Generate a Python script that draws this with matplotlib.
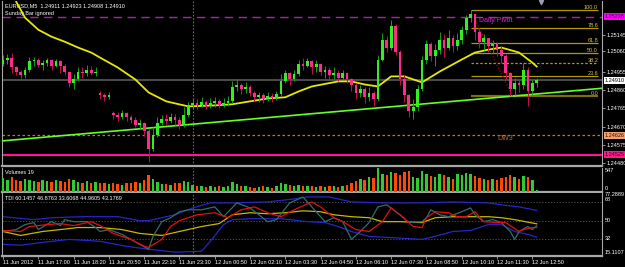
import numpy as np
import matplotlib.pyplot as plt
import matplotlib.transforms as mtransforms

plt.rcParams['font.family'] = ['Liberation Sans', 'DejaVu Sans']

W, H = 625, 267
BASE = 1.24  # prices below are points above 1.24000 (1 pt = 0.00001)

# ---- EURUSD M5 candles (10 minute steps) ----
close_pts = [1017, 1027, 976, 955, 935, 965, 1007, 1017, 991, 1001,
             1017, 986, 1007, 986, 955, 894, 914, 955, 945, 965,
             950, 955, 832, 822, 832, 729, 719, 739, 719, 703,
             678, 688, 647, 554, 626, 688, 708, 698, 719, 703,
             678, 729, 780, 791, 780, 796, 775, 791, 801, 780,
             791, 801, 873, 883, 863, 873, 842, 822, 832, 811,
             827, 816, 837, 904, 945, 919, 940, 996, 986, 1007,
             976, 996, 955, 965, 935, 950, 924, 945, 914, 883,
             842, 863, 822, 842, 811, 1017, 1120, 1079, 1192, 1058,
             914, 832, 750, 770, 863, 1017, 1099, 1037, 1068, 1120,
             1079, 1130, 1089, 1120, 1171, 1233, 1253, 1161, 1109, 1130,
             1089, 1099, 1068, 1037, 945, 863, 894, 883, 965, 852,
             894, 909]
high_pts = [1043, 1048, 1053, 986, 965, 976, 1032, 1032, 1027, 1017,
            1027, 1022, 1022, 1017, 996, 960, 940, 976, 976, 991,
            986, 976, 852, 842, 847, 750, 744, 755, 744, 729,
            719, 708, 693, 657, 667, 719, 729, 734, 739, 734,
            719, 770, 796, 811, 811, 822, 806, 816, 822, 811,
            816, 827, 904, 914, 894, 899, 883, 852, 847, 842,
            847, 842, 852, 940, 965, 955, 965, 1017, 1027, 1027,
            1017, 1017, 1001, 986, 976, 976, 965, 965, 955, 924,
            894, 888, 873, 873, 852, 1043, 1156, 1140, 1222, 1202,
            1068, 935, 837, 811, 883, 1037, 1120, 1109, 1099, 1161,
            1151, 1171, 1145, 1156, 1192, 1248, 1274, 1253, 1181, 1151,
            1130, 1120, 1109, 1089, 1048, 955, 924, 914, 1001, 976,
            914, 924]
low_pts = [986, 996, 950, 935, 914, 924, 955, 986, 976, 965,
           986, 965, 976, 950, 935, 873, 863, 904, 924, 930,
           935, 930, 811, 801, 811, 708, 698, 708, 698, 688,
           667, 657, 621, 487, 544, 616, 678, 678, 688, 678,
           657, 667, 719, 760, 760, 770, 760, 765, 770, 765,
           770, 775, 791, 852, 837, 842, 827, 801, 796, 791,
           801, 796, 806, 827, 894, 888, 904, 930, 965, 976,
           940, 955, 935, 924, 914, 919, 904, 914, 894, 852,
           811, 822, 791, 801, 775, 801, 1007, 1058, 1068, 1043,
           883, 796, 719, 708, 750, 852, 996, 1007, 986, 1048,
           1032, 1068, 1058, 1068, 1099, 1151, 1212, 1120, 1079, 1068,
           1058, 1053, 1037, 1001, 914, 827, 832, 847, 863, 775,
           832, 873]
first_open = 996
gap_opens = {22: 842, 25: 739}

volumes = [310, 280, 330, 260, 240, 290, 270, 250, 230, 260,
           240, 220, 280, 250, 230, 300, 260, 220, 210, 240,
           200, 230, 210, 190, 170, 200, 180, 160, 190, 210,
           230, 200, 260, 390, 300, 220, 180, 170, 160, 190,
           210, 250, 230, 160, 140, 120, 110, 130, 100, 120,
           110, 140, 220, 170, 130, 120, 100, 90, 110, 120,
           100, 90, 120, 200, 180, 150, 130, 160, 140, 120,
           130, 110, 120, 100, 140, 120, 110, 130, 150, 210,
           250, 300, 280, 330, 310, 547, 420, 380, 460, 430,
           390, 450, 480, 350, 320, 470, 410, 360, 330, 420,
           380, 350, 300, 410, 380, 440, 400, 360, 320, 290,
           280, 300, 260, 310, 340, 380, 330, 300, 360, 340,
           280, 40]

# moving average (yellow), sampled
ma_bars = [3, 5, 8, 11, 14, 17, 20, 22, 26, 30, 33, 37, 42, 48, 52, 56, 60,
           64, 67, 70, 76, 79, 82, 85, 88, 91, 95, 99, 104, 107, 110, 113,
           117, 120, 121]
ma_pts = [1315, 1233, 1171, 1135, 1109, 1079, 1053, 1027, 976, 914, 847,
          801, 775, 780, 786, 801, 816, 822, 852, 878, 904, 904, 888, 878,
          930, 930, 899, 955, 1017, 1053, 1068, 1079, 1053, 1001, 981]

trend_bars = [0, 121]
trend_prices = [1.24597, 1.24839]

fib_high, fib_low, fib_bar = 1.25273, 1.24827, 106
fib_ratios = [0.0, 23.6, 38.2, 50.0, 61.8, 78.6, 100.0]
zigzag_bars = [107, 115.5]
zigzag_pts = [1222, 827]

pivot = 1.25238
dw3 = 1.24626
support = 1.24525
bid = 1.24910
day_start_bar = 43

price_ticks = [1.25145, 1.25060, 1.24955, 1.24860, 1.24765, 1.24670, 1.24575, 1.24480]
time_labels = ['11 Jun 2012', '11 Jun 17:00', '11 Jun 18:20', '11 Jun 20:50',
               '11 Jun 22:10', '11 Jun 23:30', '12 Jun 00:50', '12 Jun 02:10',
               '12 Jun 03:30', '12 Jun 04:50', '12 Jun 06:10', '12 Jun 07:30',
               '12 Jun 08:50', '12 Jun 10:10', '12 Jun 11:30', '12 Jun 12:50']

# ---- TDI ----
rsi_bars = [0, 3, 5, 7, 8, 11, 13, 14, 16, 19, 21, 22, 24, 27, 29, 31, 33, 34,
            36, 38, 40, 42, 45, 48, 50, 53, 56, 58, 60, 62, 65, 68, 70, 73, 75,
            77, 79, 81, 83, 85, 87, 90, 92, 95, 96, 97, 99, 101, 104, 106, 107,
            109, 111, 113, 115, 116, 117, 119, 120, 121]
rsi = [39.3, 41.2, 46.1, 48.1, 41.2, 49.0, 45.1, 51.0, 49.0, 49.0, 43.2, 39.3,
       41.2, 36.4, 31.5, 26.6, 21.8, 34.4, 49.0, 52.9, 58.8, 60.7, 60.7, 63.6,
       53.9, 67.5, 62.6, 55.8, 49.0, 51.0, 67.5, 73.4, 63.6, 49.0, 52.9, 49.0,
       31.5, 39.3, 48.1, 63.6, 65.6, 55.8, 48.1, 49.0, 52.9, 60.7, 55.8, 53.9,
       58.8, 62.6, 55.8, 49.0, 51.0, 48.1, 39.3, 31.5, 39.3, 44.2, 41.2, 45.0]
sig_bars = [0, 4, 6, 10, 13, 16, 20, 22, 25, 29, 32, 33, 36, 38, 40, 44, 48, 51,
            54, 57, 60, 63, 66, 70, 72, 75, 77, 80, 83, 86, 88, 90, 93, 95, 96,
            98, 101, 103, 105, 107, 109, 112, 114, 117, 118, 120, 121]
signal = [40.3, 39.3, 44.2, 46.1, 47.1, 45.1, 49.0, 45.1, 37.4, 31.5, 24.7,
          23.7, 31.5, 44.2, 50.0, 55.8, 57.8, 52.9, 60.7, 63.6, 57.8, 53.9,
          60.7, 68.5, 63.6, 52.9, 49.0, 41.2, 39.3, 49.0, 62.6, 55.8, 44.2,
          43.2, 52.9, 58.8, 57.8, 53.9, 53.9, 58.8, 49.0, 48.1, 48.1, 39.3,
          41.2, 43.2, 43.2]
base_bars = [0, 4, 9, 13, 17, 22, 27, 31, 36, 40, 45, 49, 52, 56, 60, 64, 68,
             72, 75, 79, 83, 86, 90, 95, 98, 102, 106, 110, 113, 116, 119, 121]
base_line = [39.3, 35.4, 39.3, 41.2, 43.2, 43.2, 41.2, 37.4, 35.4, 39.3, 44.2,
             47.1, 55.8, 57.8, 56.8, 57.8, 59.7, 58.8, 55.8, 53.9, 52.9, 49.0,
             49.0, 48.1, 52.9, 53.9, 53.9, 53.9, 52.9, 51.0, 48.5, 46.9]
up_bars = [0, 7, 11, 18, 26, 31, 33, 39, 43, 47, 52, 60, 66, 69, 74, 79, 86,
           95, 102, 110, 113, 117, 121]
up_band = [53.9, 51.0, 52.9, 53.9, 53.9, 50.0, 50.0, 55.8, 62.6, 67.5, 67.5,
           68.5, 71.4, 73.4, 73.4, 68.5, 67.5, 67.5, 68.5, 67.5, 65.6, 63.6, 60.1]
lo_bars = [0, 4, 9, 15, 22, 28, 33, 39, 45, 47, 50, 52, 56, 63, 69, 73, 76, 79,
           83, 87, 95, 97, 102, 106, 110, 113, 116, 119, 121]
lo_band = [26.6, 25.7, 28.6, 31.5, 29.6, 24.7, 21.8, 18.9, 19.8, 29.6, 46.1,
           51.0, 51.9, 51.9, 49.0, 48.1, 44.2, 39.3, 34.4, 33.5, 31.5, 33.5,
           39.3, 40.3, 46.1, 46.1, 39.3, 36.4, 33.6]
tdi_levels = [68, 50, 32]


def px_rect(x0, y0, x1, y1):
    return [x0 / W, 1 - y1 / H, (x1 - x0) / W, (y1 - y0) / H]


def ftext(x, y, s, **kw):
    kw.setdefault('color', 'white')
    kw.setdefault('fontsize', 4)
    fig.text(x / W, 1 - y / H, s, va='center', ha='left', **kw)


fig = plt.figure(figsize=(W / 100, H / 100), dpi=100, facecolor='black')
ax = fig.add_axes(px_rect(2, 0.5, 602, 166))
axv = fig.add_axes(px_rect(2, 167.5, 602, 191.5))
axt = fig.add_axes(px_rect(2, 193, 602, 256))
xlim = (-0.23, 135.8)

for a in (ax, axv, axt):
    a.set_facecolor('black')
    a.set_xlim(*xlim)
    for s in a.spines.values():
        s.set_color('#a8a8a8')
        s.set_linewidth(0.8)
    a.spines['top'].set_visible(False)
    a.spines['bottom'].set_linewidth(1.6)
    a.set_xticks([])
    a.axvline(day_start_bar, color='#6a6a6a', lw=0.8, ls=(0, (1.5, 1.5)))

# ---- candles ----
n = len(close_pts)
bars = np.arange(n)
opens = [first_open] + close_pts[:-1]
for k, v in gap_opens.items():
    opens[k] = v
o = BASE + np.array(opens) * 1e-5
c = BASE + np.array(close_pts) * 1e-5
hi = np.maximum(BASE + np.array(high_pts) * 1e-5, np.maximum(o, c))
lo = np.minimum(BASE + np.array(low_pts) * 1e-5, np.minimum(o, c))
up = c >= o

ax.axhline(bid, color='#4a4a4a', lw=1.5, zorder=1)
ax.axhline(pivot, color='#b020b0', lw=1.0, ls=(0, (6, 4)), zorder=1)
ax.axhline(dw3, color='#c87533', lw=0.9, ls=(0, (2, 2)), zorder=1)
ax.axhline(support, color='#ff1493', lw=1.5, zorder=1)
ax.text(108, pivot, 'Daily Pivot', color='#e020e0', fontsize=5, va='top', ha='left')
ax.text(112, dw3, 'DW3', color='#b8682e', fontsize=5, va='top', ha='left')

for r in fib_ratios:
    lvl = fib_low + (fib_high - fib_low) * r / 100
    ls = (0, (2, 1.5)) if r == 38.2 else '-'
    lw = 1.6 if r == 0 else 0.9
    col = '#7d6c10' if r == 0 else '#b09a00'
    ax.hlines(lvl, fib_bar, 134.9, color=col, lw=lw, ls=ls, zorder=2)
    ax.text(134.9, lvl, '%.1f' % r, color='#d4c050', fontsize=4, ha='right', va='bottom')

ax.axline((trend_bars[0], trend_prices[0]), (trend_bars[1], trend_prices[1]),
          color='#66ff22', lw=1.2, zorder=3)
ax.plot(ma_bars, BASE + np.array(ma_pts) * 1e-5, color='#e8e800', lw=1.3, zorder=4)
ax.plot(zigzag_bars, BASE + np.array(zigzag_pts) * 1e-5, color='#b00000',
        lw=0.9, ls=(0, (1, 1.5)), zorder=4)

ax.vlines(bars, lo, hi, colors=np.where(up, '#12a012', '#c0104a'), lw=0.7, zorder=5)
body = np.maximum(np.abs(c - o), 0.000015)
ax.bar(bars, body, bottom=np.minimum(o, c), width=0.62,
       color=np.where(up, '#33ee22', '#ff2a8a'), edgecolor='none', zorder=6)
ax.plot([122], [1.25316], marker='v', color='#9aa0b4', ms=3, clip_on=False, zorder=7)

ax.set_ylim(1.24467, 1.25322)
ax.yaxis.tick_right()
ax.set_yticks(price_ticks)
ax.set_yticklabels(['%.5f' % p for p in price_ticks])
ax.tick_params(axis='y', colors='#a8a8a8', labelcolor='white', labelsize=4,
               length=2, width=0.6, pad=1)

blend = mtransforms.blended_transform_factory(ax.transAxes, ax.transData)
for val, bg, fg in [(pivot, '#ff00ff', '#3a003a'), (bid, 'white', 'black'),
                    (dw3, '#f4a070', '#301000'), (support, '#ff1a8c', '#3a0018')]:
    ax.text(1.004, val, '%.5f' % val, transform=blend, fontsize=4, color=fg,
            va='center', ha='left', clip_on=False,
            bbox=dict(boxstyle='square,pad=0.15', fc=bg, ec='none'))

# ---- volumes ----
axv.bar(bars, volumes, width=0.55, color=np.where(up, '#2ecc2e', '#ff4a00'), zorder=3)
axv.set_ylim(0, 560)
axv.set_yticks([])

# ---- TDI ----
for lv in tdi_levels:
    axt.axhline(lv, color='#5a5a5a', lw=0.6, ls=(0, (1.5, 2)))
axt.plot(up_bars, up_band, color='#2626c8', lw=0.9)
axt.plot(lo_bars, lo_band, color='#2626c8', lw=0.9)
axt.plot(base_bars, base_line, color='#c8b800', lw=0.9)
axt.plot(rsi_bars, rsi, color='#2f6e6e', lw=0.9)
axt.plot(sig_bars, signal, color='#e01010', lw=0.9)
axt.set_ylim(15.1107, 77.2889)
axt.set_yticks([])
axt.set_xticks(range(0, 121, 8))
axt.set_xticklabels(time_labels, ha='left')
axt.tick_params(axis='x', colors='#a8a8a8', labelcolor='white', labelsize=4,
                length=2, width=0.6, pad=1)

# ---- captions and right-hand scales ----
ftext(5, 6, 'EURUSD,M5  1.24911 1.24923 1.24908 1.24910')
ftext(5, 13, 'Sunday Bar ignored')
ftext(5, 173, 'Volumes 19')
ftext(5, 199, 'TDI 60.1457 46.8763 33.6068 44.9605 43.1769')
ftext(605, 171, '547')
ftext(605, 188, '0')
ftext(605, 195, '77.2889')
ftext(605, 199.5, '68')
ftext(605, 221, '50')
ftext(605, 239, '32')
ftext(605, 252, '15.1107')

fig.savefig('out.png', dpi=100, facecolor='black')
